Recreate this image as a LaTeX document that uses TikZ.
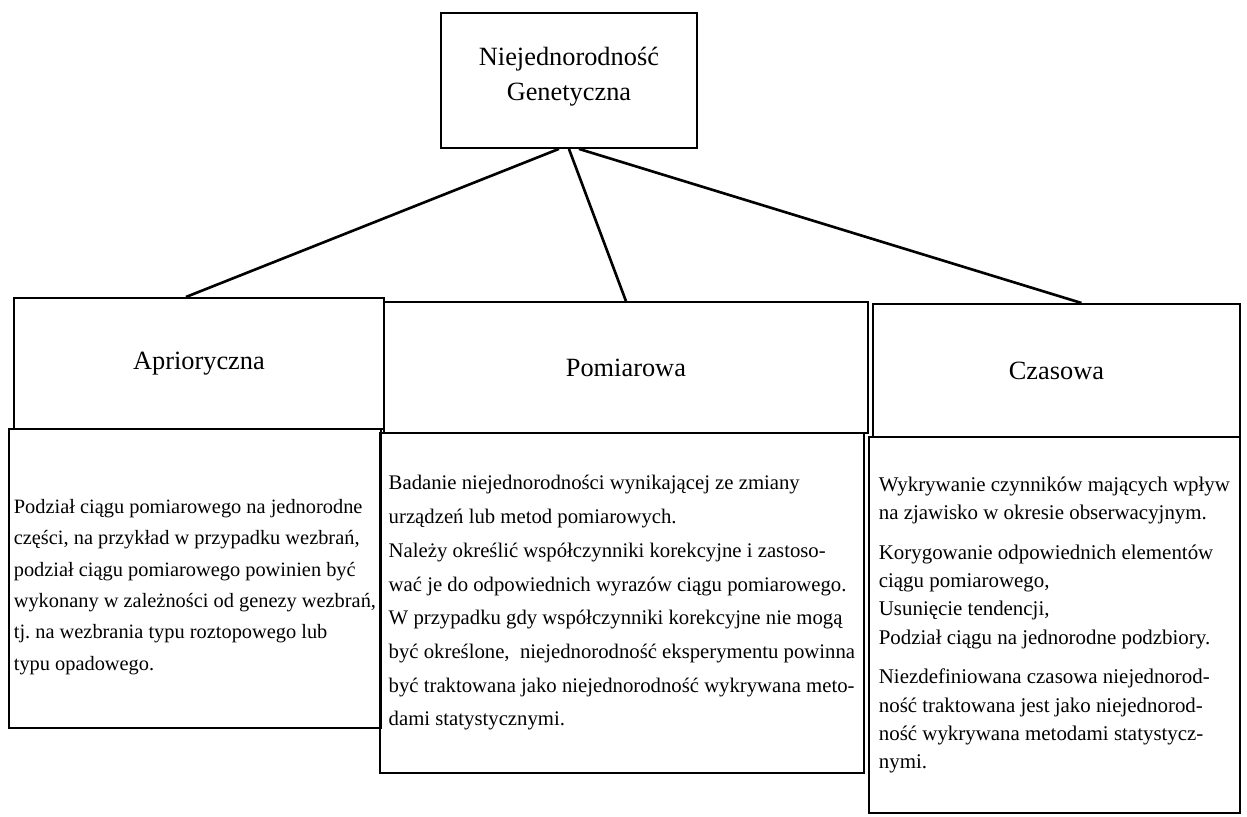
\documentclass[tikz,border=0pt]{standalone}
\usepackage{fontspec}
\setmainfont{Liberation Serif}
\usetikzlibrary{positioning}

\tikzset{
  box/.style={draw,line width=1.1pt,rectangle,inner sep=0pt,anchor=north west},
  headbox/.style={box,font=\fontsize{15}{20}\selectfont,align=center},
  bodybox/.style={box,font=\fontsize{11.9}{17.9}\selectfont,align=left},
  link/.style={line width=1.5pt},
}

\begin{document}
\begin{tikzpicture}[x=0.02cm,y=-0.02cm]
\useasboundingbox (0,0) rectangle (1247,817);
% top
\node[headbox,minimum width=5.12cm,minimum height=2.7cm] (gen) at (440,12)
  {Niejednorodność\\Genetyczna\rule[-0.28cm]{0pt}{0pt}};
% headers
\node[headbox,minimum width=7.4cm,minimum height=2.62cm] (apr) at (13,297) {Aprioryczna};
\node[headbox,minimum width=9.68cm,minimum height=2.62cm] (pom) at (383,301) {Pomiarowa};
\node[headbox,minimum width=7.34cm,minimum height=2.66cm] (cza) at (872,303) {Czasowa};
% bodies
\node[bodybox,minimum width=7.44cm,minimum height=5.98cm,
      font=\fontsize{11.6}{17.9}\selectfont] (aprtxt) at (8,428)
  {\rule{0pt}{0.62cm}Podział ciągu pomiarowego na jednorodne\\
   części, na przykład w przypadku wezbrań,\\
   podział ciągu pomiarowego powinien być\\
   wykonany w zależności od genezy wezbrań,\\
   tj.\ na wezbrania typu roztopowego lub\\
   typu opadowego.};
\node[bodybox,minimum width=9.68cm,minimum height=6.8cm,
      font=\fontsize{11.8}{19.2}\selectfont] (pomtxt) at (379,432)
  {Badanie niejednorodności wynikającej ze zmiany\\
   urządzeń lub metod pomiarowych.\\
   Należy określić współczynniki korekcyjne i zastoso-\\
   wać je do odpowiednich wyrazów ciągu pomiarowego.\\
   W przypadku gdy współczynniki korekcyjne nie mogą\\
   być określone,\ \ niejednorodność eksperymentu powinna\\
   być traktowana jako niejednorodność wykrywana meto-\\
   dami statystycznymi.};
\node[bodybox,minimum width=7.42cm,minimum height=7.52cm,
      font=\fontsize{11.9}{16.1}\selectfont] (czatxt) at (868,436)
  {Wykrywanie czynników mających wpływ\\
   na zjawisko w okresie obserwacyjnym.\\[6.6pt]
   Korygowanie odpowiednich elementów\\
   ciągu pomiarowego,\\
   Usunięcie tendencji,\\
   Podział ciągu na jednorodne podzbiory.\\[6.6pt]
   Niezdefiniowana czasowa niejednorod-\\
   ność traktowana jest jako niejednorod-\\
   ność wykrywana metodami statystycz-\\
   nymi.};
% links
\draw[link] ([xshift=-0.2cm]gen.south) -- ([xshift=-0.26cm]apr.north);
\draw[link] (gen.south) -- (pom.north);
\draw[link] ([xshift=0.2cm]gen.south) -- ([xshift=0.5cm]cza.north);
\end{tikzpicture}
\end{document}
